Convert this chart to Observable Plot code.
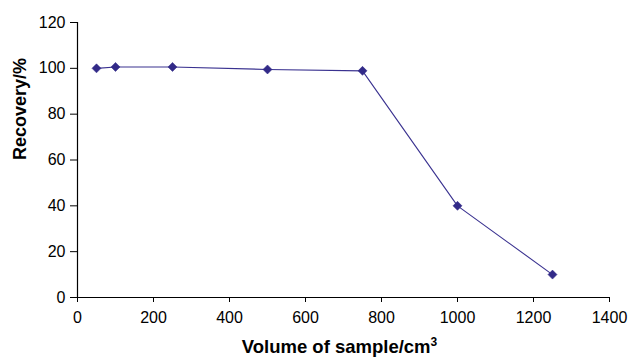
<!DOCTYPE html>
<html>
<head>
<meta charset="utf-8">
<script src="https://cdn.jsdelivr.net/npm/d3@7"></script>
<script src="https://cdn.jsdelivr.net/npm/@observablehq/plot@0.6"></script>
<style>
  html, body { margin: 0; padding: 0; background: #fff; }
  #chart { width: 630px; height: 360px; }
</style>
</head>
<body>
<div id="chart"></div>
<script>
const volumes = [50, 100, 250, 500, 750, 1000, 1250];
const recovery = [100, 100.6, 100.6, 99.5, 98.9, 40, 10];
const xTicks = [0, 200, 400, 600, 800, 1000, 1200, 1400];
const yTicks = [0, 20, 40, 60, 80, 100, 120];
const xTitleBase = "Volume of sample/cm";
const xTitleSup = "3";
const yTitle = "Recovery/%";

const data = volumes.map((v, i) => ({volume: v, recovery: recovery[i]}));
const color = "#322a88";
const font = "Liberation Sans, Arial, Helvetica, sans-serif";

const chart = Plot.plot({
  width: 630,
  height: 360,
  marginLeft: 77,
  marginRight: 21,
  marginTop: 22,
  marginBottom: 63,
  style: {fontFamily: font, background: "#fff", color: "#000"},
  x: {domain: [0, 1400]},
  y: {domain: [0, 120]},
  marks: [
    Plot.axisX({ticks: xTicks, tickFormat: d => String(d), tickSize: 5, tickPadding: 9, fontSize: 16, label: null, stroke: "#000"}),
    Plot.axisY({ticks: yTicks, tickFormat: d => String(d), tickSize: 7, tickPadding: 5, fontSize: 16, label: null, stroke: "#000"}),
    Plot.ruleX([0], {stroke: "#000", strokeWidth: 1.2}),
    Plot.ruleY([0], {stroke: "#000", strokeWidth: 1.2}),
    Plot.line(data, {x: "volume", y: "recovery", stroke: "#3a3290", strokeWidth: 1.1}),
    Plot.dot(data, {x: "volume", y: "recovery", symbol: "square", rotate: 45, r: 3.6, fill: color, stroke: color, strokeWidth: 0.5}),
    Plot.text([xTitleBase], {frameAnchor: "bottom", dy: 55, dx: -4, fontSize: 18.5, fontWeight: "bold", fill: "#000", className: "xtitle"}),
    Plot.text([yTitle], {frameAnchor: "left", dx: -57, rotate: -90, fontSize: 18, fontWeight: "bold", fill: "#000"})
  ]
});

// add the superscript to the x-axis title
d3.select(chart).selectAll("text")
  .filter(function () { return this.textContent === xTitleBase; })
  .append("tspan")
  .attr("dy", "-0.55em")
  .attr("font-size", "12px")
  .text(xTitleSup);

document.getElementById("chart").appendChild(chart);
</script>
</body>
</html>
